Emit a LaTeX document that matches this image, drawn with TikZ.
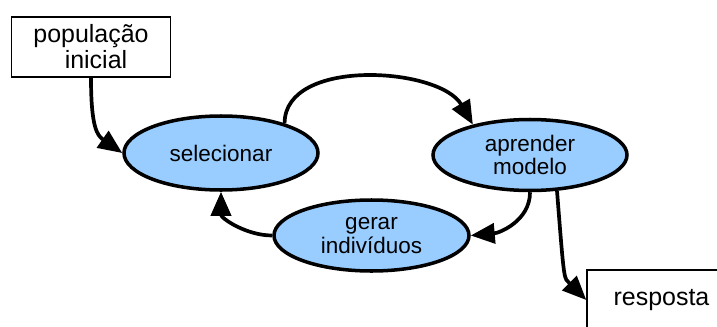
\documentclass[tikz,border=0pt]{standalone}
\usepackage{fontspec}
\setmainfont{Liberation Sans}
\usepackage{xcolor}
\usetikzlibrary{arrows.meta, positioning, calc, shapes.geometric}
\definecolor{stepblue}{RGB}{153,204,255}
\tikzset{
  stage/.style={ellipse, draw, line width=2pt, fill=stepblue, align=center,
    inner sep=0pt, font=\fontsize{12.8}{13.6}\selectfont},
  endbox/.style={rectangle, draw, line width=0.8pt, align=center,
    inner sep=0pt, font=\fontsize{14.2}{14.8}\selectfont},
  flow/.style={-{Triangle[length=0.48cm,width=0.4cm]}, line width=2.1pt}
}
\begin{document}
\begin{tikzpicture}
        \useasboundingbox (0,0) rectangle (14.34,-6.52);
        % Start and end boxes
        \node [endbox, minimum width=3.18cm, minimum height=1.2cm] (pop) at (1.82,-0.94) {população\\ \hspace*{0.2cm}inicial};
        \node [endbox, minimum width=2.7cm, minimum height=1.2cm, text width=2.6cm] (res) at (13.09,-6.0) {\hspace*{0.28cm}resposta};
        % Stages of the loop
        \node [stage, minimum width=3.88cm, minimum height=1.48cm] (sel) at (4.42,-3.06) {selecionar};
        \node [stage, minimum width=3.88cm, minimum height=1.42cm] (apr) at (10.6,-3.1) {aprender\\ modelo};
        \node [stage, minimum width=3.9cm, minimum height=1.42cm] (gen) at (7.43,-4.71) {gerar\\ indivíduos};
        % Arrows
        \draw [flow] (pop.south) .. controls +(0,-1.0) and +(-0.5,0.35) .. (sel.west);
        \draw [flow] (sel.25) to[out=90, in=120, looseness=0.9] (apr.152);
        \draw [flow] (apr.south) to[out=-90, in=5] (gen.east);
        \draw [flow] (gen.west) to[out=180, in=-90] (sel.south);
        \draw [flow] (apr.-53) .. controls +(0.15,-1.9) and +(-0.45,0.45) .. (res.west);
    \end{tikzpicture}
\end{document}
